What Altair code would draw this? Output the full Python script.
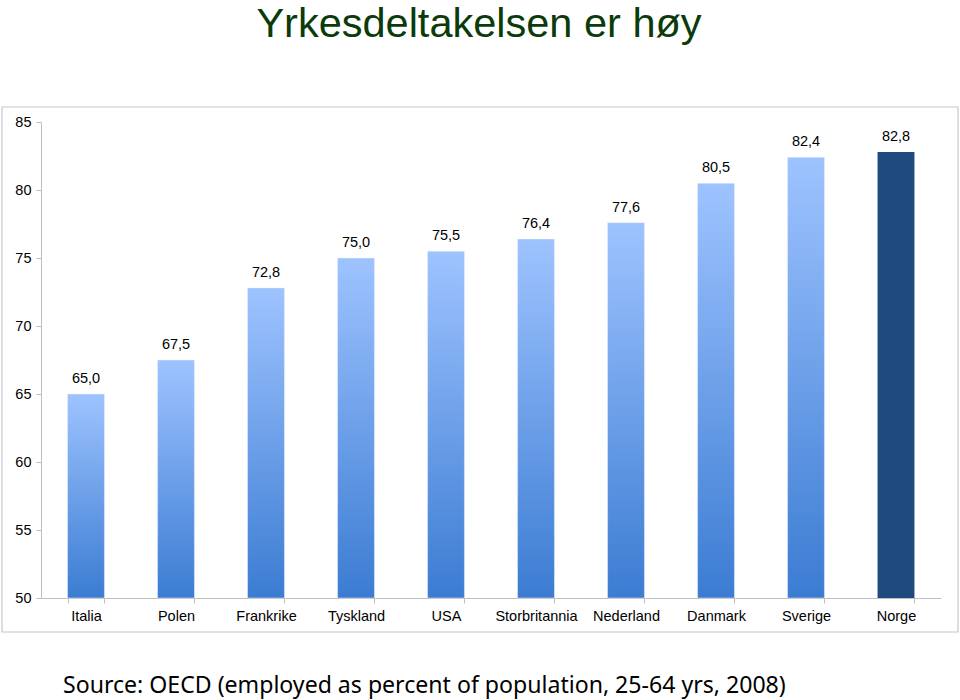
import altair as alt
import pandas as pd

countries = ["Italia", "Polen", "Frankrike", "Tyskland", "USA", "Storbritannia",
             "Nederland", "Danmark", "Sverige", "Norge"]
values = [65.0, 67.5, 72.8, 75.0, 75.5, 76.4, 77.6, 80.5, 82.4, 82.8]
labels = [f"{v:.1f}".replace(".", ",") for v in values]
highlight = "Norge"

title_text = "Yrkesdeltakelsen er høy"
source_text = "Source: OECD (employed as percent of population, 25-64 yrs, 2008)"

df = pd.DataFrame({"land": countries, "verdi": values, "etikett": labels})

W, H = 900, 476

x_enc = alt.X("land:N", sort=countries, title=None,
              scale=alt.Scale(paddingInner=0.59, paddingOuter=0.295),
              axis=alt.Axis(labelAngle=0, labelFont="Liberation Sans", labelFontSize=14.5,
                            labelColor="#000000", labelPadding=6, tickBand="extent",
                            tickSize=5, tickColor="#BFBFBF", domainColor="#BFBFBF",
                            labelFontWeight="normal", grid=False))
y_enc = alt.Y("verdi:Q", title=None,
              scale=alt.Scale(domain=[50, 85], nice=False, zero=False),
              axis=alt.Axis(values=[50, 55, 60, 65, 70, 75, 80, 85], grid=False,
                            labelFont="Liberation Sans", labelFontSize=14.5,
                            labelColor="#000000", tickSize=5, tickColor="#BFBFBF",
                            domainColor="#BFBFBF", labelPadding=5))

gradient = {
    "gradient": "linear", "x1": 0, "x2": 0, "y1": 0, "y2": 1,
    "stops": [{"offset": 0, "color": "#9EC3FF"}, {"offset": 1, "color": "#3B7CD2"}],
}

base = alt.Chart(df)

bars = base.transform_filter(alt.datum.land != highlight).mark_bar(
    color=gradient, stroke="#E8EEF8", strokeWidth=0.5
).encode(x=x_enc, y=y_enc, y2=alt.datum(50))

bar_hi = base.transform_filter(alt.datum.land == highlight).mark_bar(
    color="#1F4A7F"
).encode(x=x_enc, y=y_enc, y2=alt.datum(50))

text = base.mark_text(baseline="bottom", dy=-8, font="Liberation Sans", fontSize=14.5,
                      color="#000000").encode(x=x_enc, y=y_enc, text="etikett:N")

frame = alt.Chart(pd.DataFrame({"a": [0]})).mark_rect(
    fill="transparent", stroke="#C8C8C8", strokeWidth=1.2
).encode(x=alt.value(-39), x2=alt.value(917), y=alt.value(-15), y2=alt.value(510))

title = alt.Chart(pd.DataFrame({"t": [title_text]})).mark_text(
    font="Liberation Sans", fontSize=41.5, color="#0B3B0B", align="center",
    baseline="alphabetic"
).encode(x=alt.value(438), y=alt.value(-85), text="t:N")

source = alt.Chart(pd.DataFrame({"t": [source_text]})).mark_text(
    font="Noto Sans", fontSize=23.1, color="#000000", align="left",
    baseline="alphabetic"
).encode(x=alt.value(22), y=alt.value(571), text="t:N")

chart = alt.layer(frame, bars, bar_hi, text, title, source).properties(
    width=W, height=H,
    autosize=alt.AutoSizeParams(type="none"),
    padding={"left": 41, "top": 122, "right": 19, "bottom": 102},
).configure(background="#FFFFFF").configure_view(
    strokeWidth=0, strokeOpacity=0
).configure_axis(grid=False)

chart.save("out.html", embed_options={"renderer": "svg", "actions": False})
